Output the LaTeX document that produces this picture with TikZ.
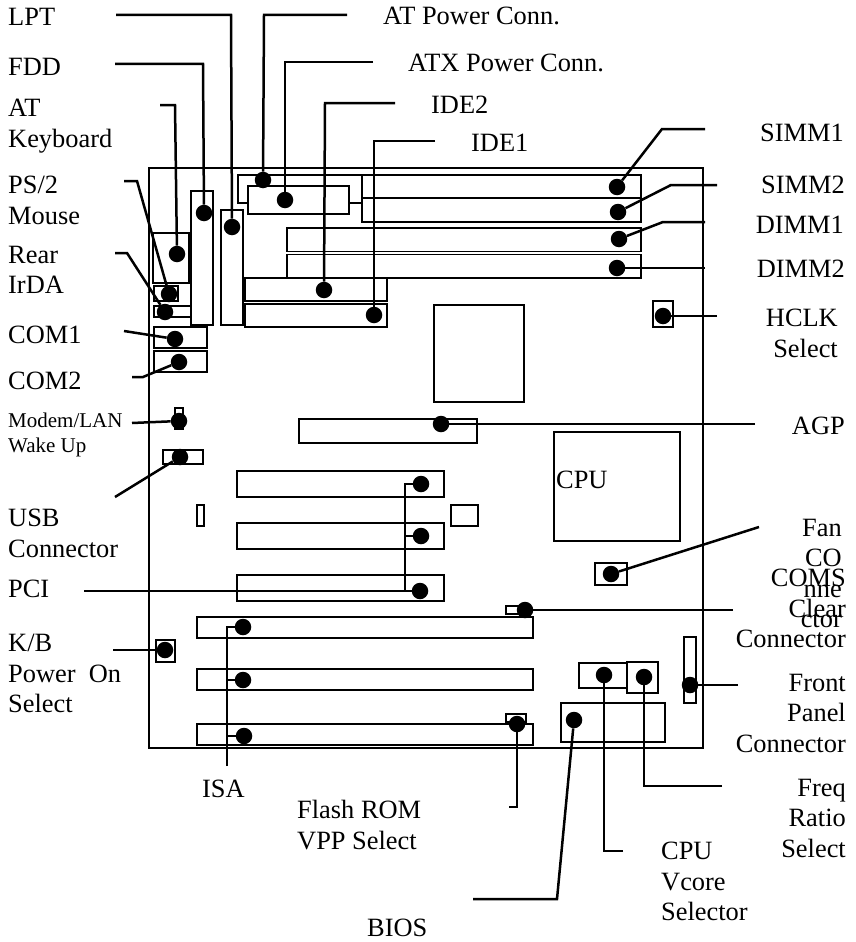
\documentclass[tikz,border=0pt]{standalone}
\usepackage{fontspec}
\setmainfont{Liberation Serif}
\tikzset{
  part/.style={draw=black,line width=1.7pt,inner sep=0pt,outer sep=0pt,anchor=north west},
  pin/.style={circle,fill=black,inner sep=0pt,minimum size=16.5pt},
  lead/.style={line width=2.5pt,black},
  lab/.style={inner sep=0pt,font=\fontsize{26.4}{30.5}\selectfont},
  labl/.style={lab,anchor=north west,align=left},
  labr/.style={lab,anchor=north east,align=right},
  tiny lab/.style={labl,font=\fontsize{21}{24.5}\selectfont}
}
\begin{document}
\begin{tikzpicture}[x=1pt,y=-1pt]
  \useasboundingbox (0,0) rectangle (856,942);
  % board and parts, x1/y1/x2/y2
  \foreach \n/\xa/\ya/\xb/\yb in {board/149/168/703/748,keyboard/153/233/189/283,ps2/154/286/178/301,
    irda/154/306/191/317,fdd/191/191/213/325,lpt/221/210/243/325,com1/154/327/207/348,com2/154/351/207/372,
    wake/175/408/183/429,usb/163/450/203/464,atpower/238/175/362/203,simm1/362/175/641/198,simm2/362/198/641/222,
    dimm1/287/228/641/251.5,dimm2/287/254.5/641/278,ide2/245/278/387/301,ide1/245/304/387/327,
    chipset/434/305/524/402,hclk/653/301/673/327,agp/299/419/477/443,cpu/554/432/680/541,
    pci1/237/471/444/497,pci2/237/523/444/549,pci3/237/575/444/601,jumper/197/505/204/526,chip/451/505/478/526,
    isa1/197/617/533/638,isa2/197/669/533/690,isa3/197/724/533/745,kbpower/156/640/175/662,fan/595/563/627/585,
    cmos/506/606/522/614,flash/506/714/526/722,vcore/579/663/627/688,freq/627/662/658/693,
    bios/561/703/665/742,panel/684/637/696/703}{
    \node[part,minimum width=\xb pt-\xa pt,minimum height=\yb pt-\ya pt] (\n) at (\xa,\ya) {};
  }
  \node[part,fill=white,minimum width=101pt,minimum height=28pt] (atx) at (248,186) {};

  % leads with a bend, end/bend/pin
  \foreach \n/\ex/\ey/\bx/\by/\px/\py in {plpt/116/15/231/15/232/227,pfdd/115/64/203/64/204/213,
    pkey/160/105/175/105/177/254,pps/124/181/137/181/169/294,pir/115/253/127/253/165/312,
    pcomb/132/377/143/377/179/362,pat/347/15/264/15/263/180,patx/373/62/285/62/285/200,
    pidb/395/103/325/103/324/290,pida/435/141/374/141/374/315,psa/705/129/662/129/617/187,
    psb/717/185/671/185/618/212,pda/705/222/663/222/619/239,pfreq/722/786/644/786/644/677,
    pvcore/623/851/604/851/604/675,pbios/473/899/557/899/574/720,pflash/509/807/517/807/517/724}{
    \node[pin] (\n) at (\px,\py) {};
    \coordinate (\n e) at (\ex,\ey);
    \coordinate (\n b) at (\bx,\by);
    \draw[lead] (\n e) -- (\n b) -- (\n);
  }
  % straight leads
  \foreach \n/\ex/\ey/\px/\py in {pcoma/124/331/175/339,pwake/132/423/179/421,pusb/115/497/180/457,
    pdb/705/268/617/268,phclk/717/316/663/316,pagp/755/424/441/424,pfan/759/527/611/574,
    pcmos/733/610/525/610,ppanel/738/685/690/685,pkb/113/650/165/650}{
    \node[pin] (\n) at (\px,\py) {};
    \coordinate (\n e) at (\ex,\ey);
    \draw[lead] (\n e) -- (\n);
  }

  % PCI and ISA share a trunk
  \node[pin] (ppcia) at (421,484) {};
  \node[pin] (ppcib) at (421,536) {};
  \node[pin] (ppcic) at (420,591) {};
  \coordinate (ppcie) at (84,591);
  \coordinate (ppcij) at (405,591);
  \coordinate (ppcit) at (405,484);
  \coordinate (ppcim) at (405,536);
  \draw[lead] (ppcie) -- (ppcic);
  \draw[lead] (ppcij) -- (ppcit) -- (ppcia);
  \draw[lead] (ppcim) -- (ppcib);
  \node[pin] (pisaa) at (243,627) {};
  \node[pin] (pisab) at (243,680) {};
  \node[pin] (pisac) at (244,736) {};
  \coordinate (pisae) at (227,766);
  \coordinate (pisat) at (227,627);
  \coordinate (pisam) at (227,680);
  \coordinate (pisan) at (227,736);
  \draw[lead] (pisae) -- (pisat) -- (pisaa);
  \draw[lead] (pisam) -- (pisab);
  \draw[lead] (pisan) -- (pisac);

  % labels
  \node[labl] (tlpt) at (8,8) {LPT};
  \node[labl] (tfdd) at (8,58) {FDD};
  \node[labl] (tkey) at (8,99) {AT\\Keyboard};
  \node[labl] (tps) at (8,176) {PS/2\\Mouse};
  \node[labl] (tir) at (8,246) {Rear\\IrDA};
  \node[labl] (tcoma) at (8,326) {COM1};
  \node[labl] (tcomb) at (8,372) {COM2};
  \node[tiny lab] (twake) at (8,413) {Modem/LAN\\Wake Up};
  \node[labl] (tusb) at (8,509) {USB\\Connector};
  \node[labl] (tpci) at (8,580) {PCI};
  \node[labl] (tkb) at (8,634) {K/B\\Power~~On\\Select};
  \node[labl] (tisa) at (202,780) {ISA};
  \node[labl] (tflash) at (297,800) {Flash ROM\\VPP Select};
  \node[labl] (tbios) at (367,919) {BIOS};
  \node[labl] (tvcore) at (661,842) {CPU\\Vcore\\Selector};
  \node[labl] (tat) at (383,7) {AT Power Conn.};
  \node[labl] (tatx) at (408,54) {ATX Power Conn.};
  \node[labl] (tidb) at (431,96) {IDE2};
  \node[labl] (tida) at (471,134) {IDE1};
  \node[labl] (tcpu) at (556,471) {CPU};
  \node[labr] (tsa) at (844,124) {SIMM1};
  \node[labr] (tsb) at (845,176) {SIMM2};
  \node[labr] (tda) at (844,216) {DIMM1};
  \node[labr] (tdb) at (845,260) {DIMM2};
  \node[labr] (thclk) at (838,309) {HCLK\\Select};
  \node[labr] (tagp) at (845,417) {AGP};
  \node[labr] (tfan) at (842,519) {Fan\\CO\\nne\\ctor};
  \node[labr] (tcmos) at (846,569) {COMS\\Clear\\Connector};
  \node[labr] (tpanel) at (846,674) {Front\\Panel\\Connector};
  \node[labr] (tfreq) at (846,779) {Freq\\Ratio\\Select};
\end{tikzpicture}
\end{document}
